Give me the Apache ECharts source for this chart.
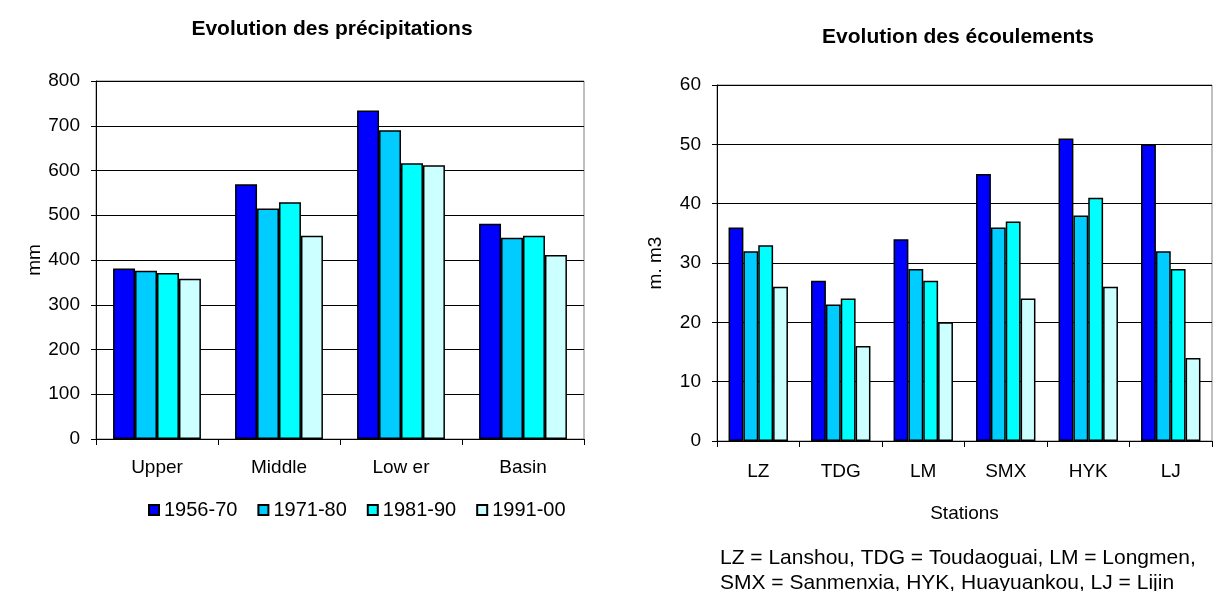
<!DOCTYPE html>
<html>
<head>
<meta charset="utf-8">
<script src="https://cdn.jsdelivr.net/npm/echarts@6/dist/echarts.min.js"></script>
<style>
  html, body { margin: 0; padding: 0; background: #fff; }
  #chart { width: 1214px; height: 591px; }
</style>
</head>
<body>
<div id="chart"></div>
<script>
// periods (legend)
var periods = ['1956-70', '1971-80', '1981-90', '1991-00'];
var colors = ['#0000FF', '#00CCFF', '#00FFFF', '#CCFFFF'];

// left chart: precipitation (mm)
var regions = ['Upper', 'Middle', 'Low er', 'Basin'];
var precip1956 = [381, 569, 734, 481];
var precip1971 = [376, 515, 690, 450];
var precip1981 = [371, 529, 616, 454];
var precip1991 = [358, 454, 612, 411];

// right chart: runoff (m. m3)
var stations = ['LZ', 'TDG', 'LM', 'SMX', 'HYK', 'LJ'];
var flow1956 = [36, 27, 34, 45, 51, 50];
var flow1971 = [32, 23, 29, 36, 38, 32];
var flow1981 = [33, 24, 27, 37, 41, 29];
var flow1991 = [26, 16, 20, 24, 26, 14];

var precipData = [precip1956, precip1971, precip1981, precip1991];
var flowData = [flow1956, flow1971, flow1981, flow1991];

var font = 'Liberation Sans, Arial, sans-serif';

function makeSeries(data, axisIdx) {
    return data.map(function (vals, i) {
        return {
            name: periods[i],
            type: 'bar',
            xAxisIndex: axisIdx,
            yAxisIndex: axisIdx,
            data: vals,
            barGap: '0%',
            barCategoryGap: '28%',
            itemStyle: { color: colors[i], borderColor: '#000', borderWidth: 1.5 },
            emphasis: { disabled: true }
        };
    });
}

function yAxisCfg(gridIdx, max, step, name, gap) {
    return {
        type: 'value', gridIndex: gridIdx, min: 0, max: max, interval: step,
        name: name, nameLocation: 'middle', nameGap: gap,
        nameTextStyle: { color: '#000', fontSize: 19, fontFamily: font },
        axisLine: { show: true, lineStyle: { color: '#000', width: 1 } },
        axisTick: { show: true, length: 5, lineStyle: { color: '#000' } },
        axisLabel: { color: '#000', fontSize: 19, fontFamily: font, margin: 16 },
        splitLine: { show: true, lineStyle: { color: '#000', width: 1 } }
    };
}

function xAxisCfg(gridIdx, cats, margin) {
    return {
        type: 'category', gridIndex: gridIdx, data: cats,
        axisLine: { show: true, lineStyle: { color: '#000', width: 1 } },
        axisTick: { show: true, length: 6, lineStyle: { color: '#000' } },
        axisLabel: { color: '#000', fontSize: 19, fontFamily: font, margin: margin }
    };
}

var myChart = echarts.init(document.getElementById('chart'));
var xRight = xAxisCfg(1, stations, 21);
xRight.name = 'Stations';
xRight.nameLocation = 'middle';
xRight.nameGap = 63;
xRight.nameTextStyle = { color: '#000', fontSize: 19, fontFamily: font };

myChart.setOption({
    animation: false,
    backgroundColor: '#fff',
    grid: [
        { left: 96, top: 81, width: 488, height: 358, show: true, borderColor: '#808080', borderWidth: 1 },
        { left: 717, top: 85, width: 495, height: 356, show: true, borderColor: '#808080', borderWidth: 1 }
    ],
    legend: {
        data: periods,
        left: 143, top: 495,
        icon: 'rect', itemWidth: 10, itemHeight: 10, itemGap: 20,
        textStyle: { color: '#000', fontSize: 20, fontFamily: font }
    },
    xAxis: [xAxisCfg(0, regions, 19), xRight],
    yAxis: [yAxisCfg(0, 800, 100, 'mm', 47), yAxisCfg(1, 60, 10, 'm. m3', 52)],
    graphic: [
        { type: 'text', x: 332, y: 29, style: { text: 'Evolution des précipitations', fill: '#000',
            font: 'bold 21px ' + font, textAlign: 'center', textVerticalAlign: 'middle' } },
        { type: 'text', x: 958, y: 37, style: { text: 'Evolution des écoulements', fill: '#000',
            font: 'bold 21px ' + font, textAlign: 'center', textVerticalAlign: 'middle' } },
        { type: 'text', x: 720, y: 546, style: {
            text: 'LZ = Lanshou, TDG = Toudaoguai, LM = Longmen,\nSMX = Sanmenxia, HYK, Huayuankou, LJ = Lijin',
            fill: '#000', font: '21px ' + font, lineHeight: 25 } }
    ],
    series: makeSeries(precipData, 0).concat(makeSeries(flowData, 1))
});
</script>
</body>
</html>
